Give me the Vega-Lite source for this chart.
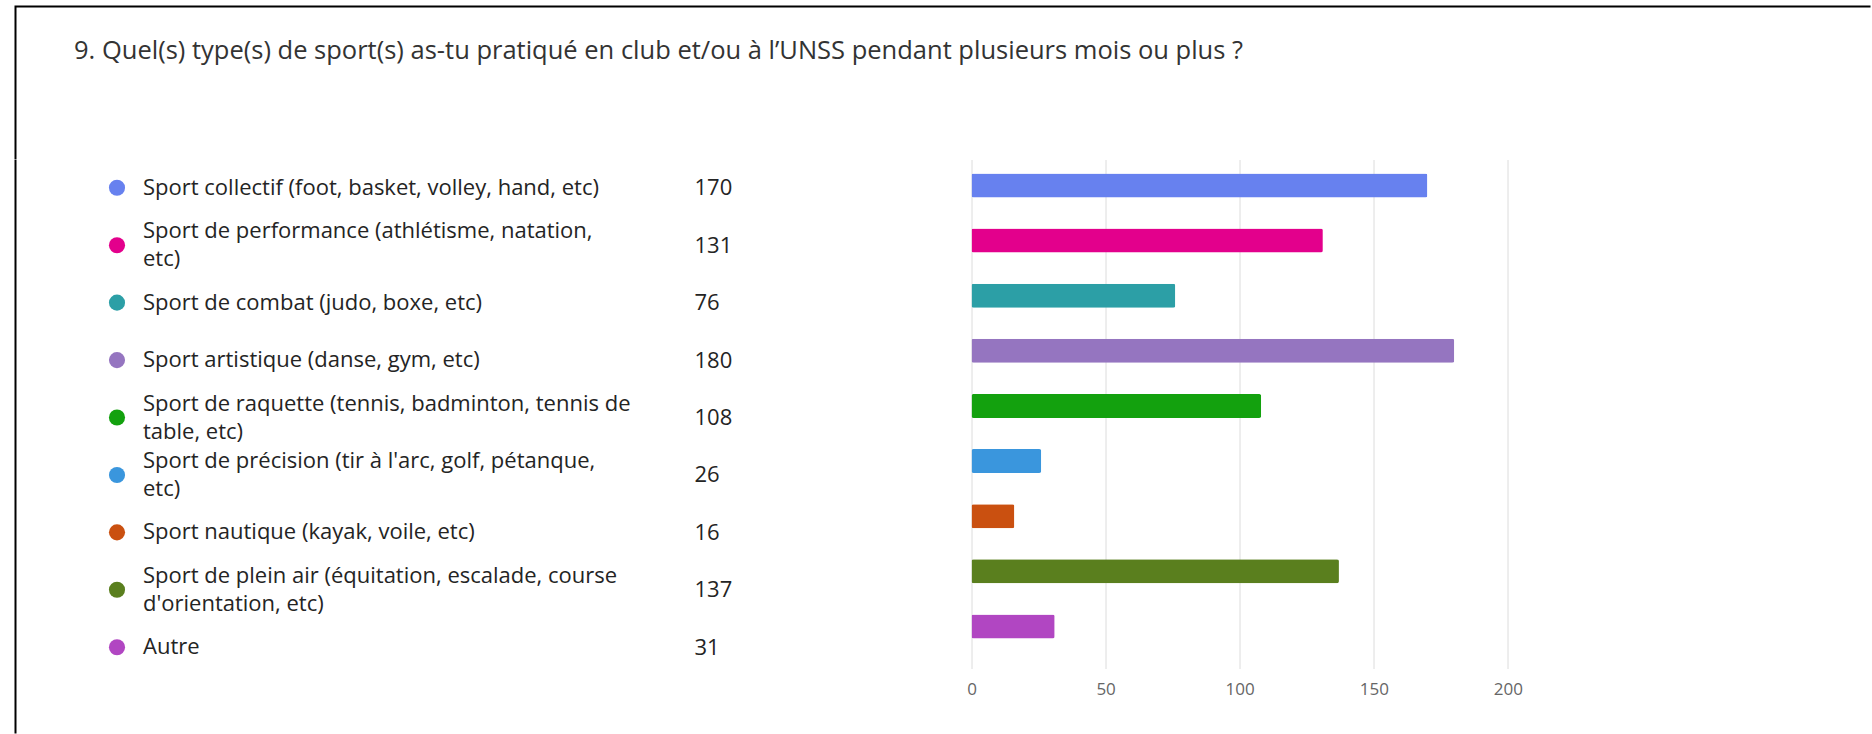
{
  "$schema": "https://vega.github.io/schema/vega-lite/v6.json",
  "padding": {"left": 14.5, "top": 5.5, "right": 0, "bottom": 0},
  "background": "white",
  "config": {"font": "Open Sans", "view": {"stroke": null}},
  "data": {"values": [
    {"label": "Sport collectif (foot, basket, volley, hand, etc)", "count": 170},
    {"label": "Sport de performance (athlétisme, natation,\netc)", "count": 131},
    {"label": "Sport de combat (judo, boxe, etc)", "count": 76},
    {"label": "Sport artistique (danse, gym, etc)", "count": 180},
    {"label": "Sport de raquette (tennis, badminton, tennis de\ntable, etc)", "count": 108},
    {"label": "Sport de précision (tir à l'arc, golf, pétanque,\netc)", "count": 26},
    {"label": "Sport nautique (kayak, voile, etc)", "count": 16},
    {"label": "Sport de plein air (équitation, escalade, course\nd'orientation, etc)", "count": 137},
    {"label": "Autre", "count": 31}
  ]},
  "bounds": "flush",
  "spacing": 0,
  "vconcat": [
    {
      "title": {"text": "9. Quel(s) type(s) de sport(s) as-tu pratiqué en club et/ou à l’UNSS pendant plusieurs mois ou plus ?", "anchor": "start", "frame": "group", "orient": "top", "offset": -44.5, "dx": 58.5, "dy": 25, "baseline": "middle", "fontSize": 25.5, "fontWeight": "normal", "color": "#333333", "font": "Open Sans"},
      "width": 1855,
      "height": 152.5,
      "view": {"stroke": "#000000", "strokeWidth": 2, "strokeDash": [1855, 2007.5]},
      "mark": {"type": "point", "opacity": 0},
      "encoding": {
        "x": {"field": "count", "type": "quantitative", "axis": null},
        "y": {"field": "label", "type": "nominal", "axis": null}
      }
    },
    {
      "bounds": "flush",
      "spacing": 0,
      "hconcat": [
        {
          "width": 203,
          "height": 574,
          "mark": {"type": "point", "filled": true, "opacity": 1, "size": 260},
          "encoding": {
            "y": {"field": "label", "type": "nominal", "sort": null, "scale": {"padding": 0.9975, "align": 0.247},
              "axis": {"orient": "left", "title": null, "domain": true, "domainColor": "#000000", "domainWidth": 2, "translate": 0, "ticks": false, "tickSize": 0, "grid": false, "labelPadding": -127.5, "labelAlign": "left", "labelBaseline": "middle", "labelExpr": "split(datum.label, '\\n')", "labelOffset": {"condition": {"test": "indexof(datum.value, '\\n') >= 0", "value": -14}, "value": 0}, "labelFontSize": 22, "labelColor": "#242424", "labelLineHeight": 28, "labelLimit": 1000, "labelOverlap": false, "labelBound": false, "labelFlush": false}},
            "color": {"field": "label", "type": "nominal", "sort": null, "legend": null,
              "scale": {"range": ["#6781ef", "#e3008c", "#2c9fa6", "#9575c0", "#13a10e", "#3a96dd", "#ca5010", "#5a7f1e", "#b146c2"]}}
          }
        },
        {
          "width": 752.1,
          "height": 574,
          "mark": {"type": "point", "opacity": 0},
          "encoding": {
            "y": {"field": "count", "type": "ordinal", "sort": null, "scale": {"padding": 0.9975, "align": 0.247},
              "axis": {"orient": "left", "title": null, "domain": false, "ticks": false, "tickSize": 0, "grid": false, "labelPadding": -475.5, "labelAlign": "left", "labelBaseline": "middle", "labelFontSize": 22, "labelColor": "#242424", "labelOverlap": false, "labelBound": false, "labelFlush": false}}
          }
        },
        {
          "width": 536.4,
          "height": 509,
          "mark": {"type": "bar", "cornerRadius": 2},
          "encoding": {
            "y": {"field": "label", "type": "nominal", "sort": null, "axis": null,
              "scale": {"paddingInner": 0.5646, "paddingOuter": 0.399, "align": 0.318}},
            "x": {"field": "count", "type": "quantitative", "scale": {"domain": [0, 200], "nice": false},
              "axis": {"title": null, "values": [0, 50, 100, 150, 200], "grid": true, "gridColor": "#dcdcdc", "domain": false, "ticks": false, "tickSize": 0, "labelPadding": 13, "labelFontSize": 17, "labelColor": "#666666", "labelFlush": false}},
            "color": {"field": "label", "type": "nominal", "sort": null, "legend": null,
              "scale": {"range": ["#6781ef", "#e3008c", "#2c9fa6", "#9575c0", "#13a10e", "#3a96dd", "#ca5010", "#5a7f1e", "#b146c2"]}}
          }
        }
      ]
    }
  ]
}
